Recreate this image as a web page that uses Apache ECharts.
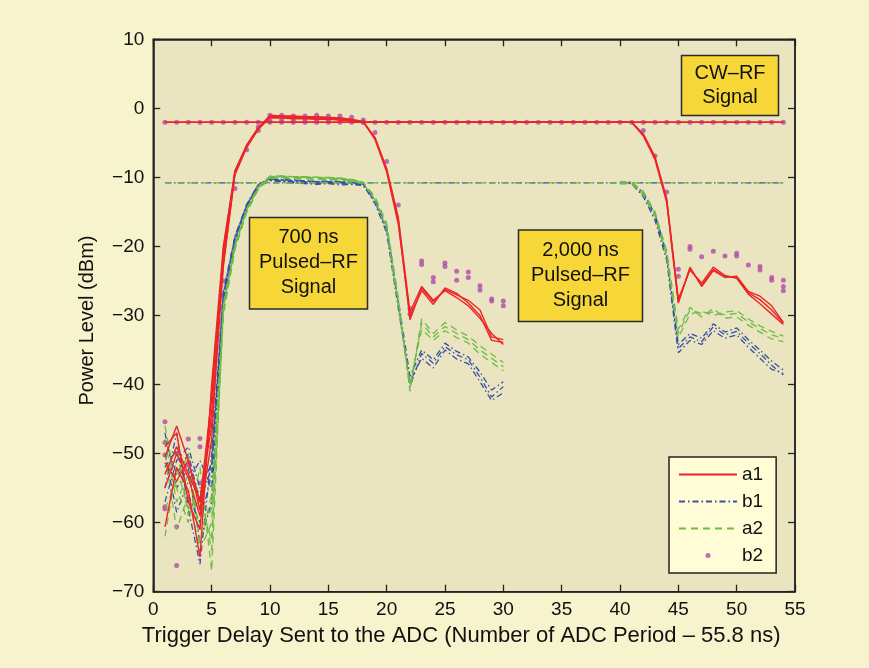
<!DOCTYPE html>
<html>
<head>
<meta charset="utf-8">
<script src="https://cdn.jsdelivr.net/npm/echarts/dist/echarts.min.js"></script>
<style>
  html, body { margin: 0; padding: 0; background: #f6f3cd; }
  #chart { width: 869px; height: 668px; }
</style>
</head>
<body>
<div id="chart"></div>
<script>
// Trigger delay (ADC periods) for each sample
const delays = [1,2,3,4,5,6,7,8,9,10,11,12,13,14,15,16,17,18,19,20,21,22,23,24,25,26,27,
  28,29,30,31,32,33,34,35,36,37,38,39,40,41,42,43,44,45,46,47,48,49,50,51,52,53,54];

const xTicks = [0,5,10,15,20,25,30,35,40,45,50,55];
const yTicks = [-70,-60,-50,-40,-30,-20,-10,0,10];

// ---- a1 (red, solid) ----
const a1_cw = [-2.0,-2.0,-2.0,-2.0,-2.0,-2.0,-2.0,-2.0,-2.0,-2.0,-2.0,-2.0,-2.0,-2.0,-2.0,-2.0,-2.0,-2.0,
  -2.0,-2.0,-2.0,-2.0,-2.0,-2.0,-2.0,-2.0,-2.0,-2.0,-2.0,-2.0,-2.0,-2.0,-2.0,-2.0,-2.0,-2.0,
  -2.0,-2.0,-2.0,-2.0,-2.0,-2.0,-2.0,-2.0,-2.0,-2.0,-2.0,-2.0,-2.0,-2.0,-2.0,-2.0,-2.0,-2.0];
const a1_700_1 = [-50.5,-46.0,-51.0,-57.0,-42.0,-21.0,-9.2,-5.5,-2.9,-1.0,-1.1,-1.1,-1.2,-1.2,-1.3,-1.4,-1.6,-1.9,
  -4.3,-8.9,-16.2,-30.6,-26.1,-28.0,-26.2,-27.0,-27.8,-29.2,-33.1,-33.5];
const a1_700_2 = [-60.6,-52.0,-55.3,-65.0,-40.0,-20.0,-9.0,-5.3,-2.8,-1.2,-1.2,-1.3,-1.3,-1.4,-1.4,-1.5,-1.7,-2.0,
  -4.5,-9.2,-16.8,-30.0,-26.4,-28.4,-26.0,-26.8,-28.2,-30.0,-33.6,-33.9];
const a1_700_3 = [-51.3,-54.0,-50.9,-58.2,-44.0,-22.5,-9.6,-5.7,-3.0,-1.4,-1.4,-1.5,-1.5,-1.6,-1.6,-1.7,-1.8,-2.0,
  -4.2,-8.7,-15.8,-29.5,-25.8,-27.8,-26.4,-27.4,-28.6,-30.4,-32.6,-34.2];
const a1_2000_1 = [-53.0,-49.0,-53.0,-56.7,-46.0,-23.0,-9.4,-5.4,-2.8,-1.1,-1.1,-1.2,-1.2,-1.3,-1.3,-1.4,-1.6,
  -2.0,-2.0,-2.0,-2.0,-2.0,-2.0,-2.0,-2.0,-2.0,-2.0,-2.0,-2.0,-2.0,-2.0,-2.0,-2.0,-2.0,-2.0,-2.0,-2.0,-2.0,-2.0,-2.0,-2.0,
  -3.9,-7.2,-13.3,-28.0,-23.2,-25.6,-23.3,-24.4,-24.4,-26.7,-27.7,-29.2,-31.1];
const a1_2000_2 = [-49.0,-47.0,-57.0,-61.0,-41.0,-21.5,-9.1,-5.6,-2.9,-1.2,-1.2,-1.2,-1.3,-1.3,-1.4,-1.5,-1.7,
  -2.0,-2.0,-2.0,-2.0,-2.0,-2.0,-2.0,-2.0,-2.0,-2.0,-2.0,-2.0,-2.0,-2.0,-2.0,-2.0,-2.0,-2.0,-2.0,-2.0,-2.0,-2.0,-2.0,-2.0,
  -3.7,-7.0,-13.0,-27.6,-23.4,-25.3,-23.0,-24.2,-24.6,-26.9,-28.3,-29.8,-31.3];
const a1_2000_3 = [-55.0,-50.0,-53.5,-59.0,-48.0,-20.5,-9.3,-5.5,-3.0,-1.3,-1.3,-1.4,-1.4,-1.5,-1.5,-1.6,-1.8,
  -2.0,-2.0,-2.0,-2.0,-2.0,-2.0,-2.0,-2.0,-2.0,-2.0,-2.0,-2.0,-2.0,-2.0,-2.0,-2.0,-2.0,-2.0,-2.0,-2.0,-2.0,-2.0,-2.0,-2.0,
  -4.0,-7.4,-13.6,-28.2,-23.0,-25.8,-23.5,-24.5,-24.3,-26.5,-27.2,-28.6,-31.0];

// ---- b1 (blue, dash-dot) ----
const b1_cw = [-10.8,-10.8,-10.8,-10.8,-10.8,-10.8,-10.8,-10.8,-10.8,-10.8,-10.8,-10.8,-10.8,-10.8,-10.8,-10.8,-10.8,-10.8,
  -10.8,-10.8,-10.8,-10.8,-10.8,-10.8,-10.8,-10.8,-10.8,-10.8,-10.8,-10.8,-10.8,-10.8,-10.8,-10.8,-10.8,-10.8,
  -10.8,-10.8,-10.8,-10.8,-10.8,-10.8,-10.8,-10.8,-10.8,-10.8,-10.8,-10.8,-10.8,-10.8,-10.8,-10.8,-10.8,-10.8];
const b1_700_1 = [-48.0,-53.0,-50.0,-57.0,-52.0,-27.5,-19.0,-14.2,-11.2,-10.2,-10.4,-10.4,-10.5,-10.6,-10.5,-10.6,-10.7,-11.0,
  -13.5,-17.6,-28.3,-40.3,-35.5,-36.9,-34.5,-35.7,-36.4,-38.9,-41.8,-40.3];
const b1_700_2 = [-55.0,-47.0,-58.0,-66.0,-50.0,-26.5,-18.6,-14.0,-11.0,-10.3,-10.5,-10.6,-10.7,-10.6,-10.8,-10.9,-10.8,-11.1,
  -13.8,-18.0,-29.0,-39.5,-36.2,-37.6,-35.0,-36.3,-37.0,-39.6,-42.3,-41.2];
const b1_700_3 = [-50.0,-58.5,-54.0,-51.0,-55.0,-28.0,-19.4,-14.5,-11.4,-10.4,-10.6,-10.8,-10.9,-11.0,-10.9,-11.1,-11.0,-11.2,
  -13.2,-17.2,-27.8,-38.8,-35.0,-36.4,-34.0,-35.2,-36.0,-38.2,-40.8,-39.6];
const b1_2000_1 = [-52.0,-49.5,-56.0,-60.0,-53.0,-27.0,-18.8,-14.1,-11.1,-10.3,-10.4,-10.5,-10.6,-10.6,-10.7,-10.7,-10.8,
  -10.8,null,null,null,null,null,null,null,null,null,null,null,null,null,null,null,null,null,null,null,null,null,-10.8,-10.8,
  -12.5,-15.7,-21.5,-34.8,-33.1,-33.8,-31.6,-32.8,-32.3,-34.0,-35.5,-37.2,-38.6];
const b1_2000_2 = [-47.0,-55.0,-52.0,-63.0,-57.0,-27.8,-19.2,-14.4,-11.3,-10.5,-10.6,-10.7,-10.8,-10.9,-10.8,-10.9,-11.0,
  -10.9,null,null,null,null,null,null,null,null,null,null,null,null,null,null,null,null,null,null,null,null,null,-10.9,-10.9,
  -12.8,-16.2,-22.0,-35.4,-33.6,-34.2,-32.2,-33.3,-32.8,-34.6,-36.2,-37.8,-38.4];
const b1_2000_3 = [-57.0,-51.0,-49.0,-55.0,-51.5,-26.8,-18.5,-13.9,-11.0,-10.2,-10.3,-10.4,-10.5,-10.6,-10.6,-10.7,-10.8,
  -10.8,null,null,null,null,null,null,null,null,null,null,null,null,null,null,null,null,null,null,null,null,null,-10.7,-10.7,
  -12.2,-15.3,-21.0,-34.2,-32.6,-33.3,-31.2,-32.4,-31.8,-33.5,-35.0,-36.6,-37.9];

// ---- a2 (green, dashed) ----
const a2_cw = [-10.8,-10.8,-10.8,-10.8,-10.8,-10.8,-10.8,-10.8,-10.8,-10.8,-10.8,-10.8,-10.8,-10.8,-10.8,-10.8,-10.8,-10.8,
  -10.8,-10.8,-10.8,-10.8,-10.8,-10.8,-10.8,-10.8,-10.8,-10.8,-10.8,-10.8,-10.8,-10.8,-10.8,-10.8,-10.8,-10.8,
  -10.8,-10.8,-10.8,-10.8,-10.8,-10.8,-10.8,-10.8,-10.8,-10.8,-10.8,-10.8,-10.8,-10.8,-10.8,-10.8,-10.8,-10.8];
const a2_700_1 = [-46.0,-55.0,-60.0,-52.0,-67.0,-29.0,-20.0,-14.8,-11.5,-10.0,-9.9,-9.9,-10.0,-10.0,-10.1,-10.2,-10.4,-10.8,
  -13.0,-17.0,-28.0,-40.5,-31.1,-33.1,-31.6,-32.6,-33.5,-35.0,-36.2,-37.4];
const a2_700_2 = [-50.0,-61.0,-56.0,-64.0,-60.0,-28.5,-19.6,-14.6,-11.3,-9.8,-9.8,-9.9,-9.9,-10.0,-10.0,-10.1,-10.3,-10.7,
  -12.8,-16.6,-27.4,-41.0,-30.5,-32.6,-31.0,-32.1,-33.0,-34.4,-35.6,-36.8];
const a2_700_3 = [-62.0,-52.0,-58.0,-57.0,-62.5,-30.0,-20.4,-15.1,-11.7,-10.1,-10.1,-10.2,-10.2,-10.3,-10.3,-10.4,-10.5,-10.9,
  -13.3,-17.4,-28.6,-39.8,-32.0,-33.6,-32.2,-33.2,-34.0,-35.6,-36.8,-38.0];
const a2_2000_1 = [-48.0,-57.0,-53.0,-61.0,-58.0,-29.2,-20.1,-14.9,-11.6,-10.0,-9.9,-10.0,-10.0,-10.1,-10.1,-10.2,-10.4,
  -10.8,null,null,null,null,null,null,null,null,null,null,null,null,null,null,null,null,null,null,null,null,null,-10.8,-10.8,
  -12.3,-15.3,-21.0,-32.6,-29.2,-29.7,-29.5,-29.9,-29.7,-30.9,-31.9,-32.8,-33.3];
const a2_2000_2 = [-53.0,-49.0,-59.0,-55.0,-64.0,-28.8,-19.8,-14.7,-11.4,-9.9,-9.8,-9.9,-9.9,-10.0,-10.0,-10.1,-10.3,
  -10.7,null,null,null,null,null,null,null,null,null,null,null,null,null,null,null,null,null,null,null,null,null,-10.7,-10.7,
  -12.0,-15.0,-20.6,-32.0,-28.8,-30.2,-29.0,-30.4,-30.2,-31.4,-32.4,-33.4,-33.8];
const a2_2000_3 = [-58.0,-54.0,-50.0,-63.0,-56.0,-29.6,-20.3,-15.0,-11.6,-10.1,-10.0,-10.1,-10.1,-10.2,-10.2,-10.3,-10.5,
  -10.9,null,null,null,null,null,null,null,null,null,null,null,null,null,null,null,null,null,null,null,null,null,-10.9,-10.9,
  -12.6,-15.6,-21.4,-33.2,-29.8,-29.4,-30.0,-29.5,-29.3,-30.5,-31.5,-32.3,-33.0];

// ---- b2 (magenta dots) ----
const b2_cw = [-2.0,-2.0,-2.0,-2.0,-2.0,-2.0,-2.0,-2.0,-2.0,-2.0,-2.0,-2.0,-2.0,-2.0,-2.0,-2.0,-2.0,-2.0,
  -2.0,-2.0,-2.0,-2.0,-2.0,-2.0,-2.0,-2.0,-2.0,-2.0,-2.0,-2.0,-2.0,-2.0,-2.0,-2.0,-2.0,-2.0,
  -2.0,-2.0,-2.0,-2.0,-2.0,-2.0,-2.0,-2.0,-2.0,-2.0,-2.0,-2.0,-2.0,-2.0,-2.0,-2.0,-2.0,-2.0];
const b2_700_1 = [-45.4,-50.0,-47.9,-47.8,-45.9,-25.0,-11.6,-6.0,-2.7,-1.0,-1.0,-1.1,-1.1,-1.0,-1.1,-1.1,-1.3,-1.7,
  -3.5,-7.7,-14.0,-29.0,-22.1,-24.5,-22.4,-23.6,-23.7,-25.7,-27.6,-27.9];
const b2_700_2 = [-48.4,-60.6,-51.7,-49.0,-49.0,null,null,null,-3.2,-1.8,-1.7,-1.7,-1.7,-1.7,-1.8,-1.8,-1.8,-2.0,
  null,null,null,-29.8,-22.6,-25.1,-22.9,-24.9,-24.5,-26.3,-27.9,-28.6];
// extra samples near the start (delays 1..5)
const b2_start_1 = [-50.2,-66.2,-56.7,-54.3,null];
const b2_start_2 = [-57.7,null,null,-56.7,null];
const b2_start_3 = [-58.0,null,null,null,null];
// 2,000 ns pulse trailing edge (delays 42..54)
const b2_2000_1 = [-3.2,-6.9,-12.1,-23.3,-20.0,-21.5,-20.7,-21.4,-21.0,-22.7,-22.9,-24.5,-24.9];
const b2_2000_2 = [null,null,null,-24.3,-20.4,null,null,null,-21.4,null,-23.4,-24.9,-25.8];
const b2_2000_3 = [null,null,null,null,null,null,null,null,null,null,null,null,-26.4];

// pair values with delays, starting at a given delay
function pairs(values, firstDelay) {
  const start = delays.indexOf(firstDelay);
  return values.map((v, i) => [delays[start + i], v]);
}

const FONT = '"Liberation Sans", Arial, Helvetica, sans-serif';
const RED = '#ec2527', BLUE = '#3450a6', GREEN = '#6bbd45', MAG = '#b24aa8';

function lineSeries(name, values, color, type, width) {
  return {
    name: name, type: 'line', data: pairs(values, 1),
    showSymbol: false, symbol: 'none', connectNulls: false,
    lineStyle: { color: color, width: width, type: type },
    itemStyle: { color: color },
    animation: false, silent: true
  };
}
function dotSeries(values, firstDelay) {
  return {
    name: 'b2', type: 'scatter', data: pairs(values, firstDelay).filter(p => p[1] !== null),
    symbol: 'circle', symbolSize: 5,
    itemStyle: { color: MAG },
    animation: false, silent: true
  };
}

const DASHDOT = [6, 3, 1.5, 3];
const DASH = [7, 5];

const series = [
  lineSeries('b1', b1_700_1, BLUE, DASHDOT, 1.3),
  lineSeries('b1', b1_cw, BLUE, DASHDOT, 1.3),
  lineSeries('b1', b1_700_2, BLUE, DASHDOT, 1.3),
  lineSeries('b1', b1_700_3, BLUE, DASHDOT, 1.3),
  lineSeries('b1', b1_2000_1, BLUE, DASHDOT, 1.3),
  lineSeries('b1', b1_2000_2, BLUE, DASHDOT, 1.3),
  lineSeries('b1', b1_2000_3, BLUE, DASHDOT, 1.3),
  lineSeries('a2', a2_700_1, GREEN, DASH, 1.3),
  lineSeries('a2', a2_cw, GREEN, DASH, 1.3),
  lineSeries('a2', a2_700_2, GREEN, DASH, 1.3),
  lineSeries('a2', a2_700_3, GREEN, DASH, 1.3),
  lineSeries('a2', a2_2000_1, GREEN, DASH, 1.3),
  lineSeries('a2', a2_2000_2, GREEN, DASH, 1.3),
  lineSeries('a2', a2_2000_3, GREEN, DASH, 1.3),
  lineSeries('a1', a1_cw, RED, 'solid', 1.6),
  lineSeries('a1', a1_700_1, RED, 'solid', 1.4),
  lineSeries('a1', a1_700_2, RED, 'solid', 1.4),
  lineSeries('a1', a1_700_3, RED, 'solid', 1.4),
  lineSeries('a1', a1_2000_1, RED, 'solid', 1.4),
  lineSeries('a1', a1_2000_2, RED, 'solid', 1.4),
  lineSeries('a1', a1_2000_3, RED, 'solid', 1.4),
  dotSeries(b2_cw, 1),
  dotSeries(b2_700_1, 1),
  dotSeries(b2_700_2, 1),
  dotSeries(b2_start_1, 1),
  dotSeries(b2_start_2, 1),
  dotSeries(b2_start_3, 1),
  dotSeries(b2_2000_1, 42),
  dotSeries(b2_2000_2, 42),
  dotSeries(b2_2000_3, 42)
];

const minus = v => String(v).replace('-', '\u2212');
const axisLine = { show: true, onZero: false, lineStyle: { color: '#222', width: 1.5 } };
const tickIn = { show: true, inside: true, length: 7, lineStyle: { color: '#222', width: 1.3 } };
const noSymbol = { opacity: 0 };

const chart = echarts.init(document.getElementById('chart'), null, { renderer: 'canvas' });
chart.setOption({
  backgroundColor: '#f6f3cd',
  animation: false,
  textStyle: { fontFamily: FONT },
  grid: { left: 153.3, top: 39.3, right: 74, bottom: 76.3, show: true,
          backgroundColor: '#ebe4c1', borderColor: '#222', borderWidth: 1.5 },
  legend: {
    orient: 'vertical', left: 669, top: 457,
    data: [
      { name: 'a1', itemStyle: noSymbol },
      { name: 'b1', itemStyle: noSymbol },
      { name: 'a2', itemStyle: noSymbol },
      { name: 'b2', icon: 'circle' }
    ],
    itemWidth: 58, itemHeight: 5, itemGap: 8,
    padding: [8, 13, 8, 9],
    backgroundColor: '#fffcd6', borderColor: '#222', borderWidth: 1.5,
    textStyle: { fontSize: 19, color: '#111', fontFamily: FONT },
    selectedMode: false
  },
  xAxis: [{
    type: 'value', min: 0, max: 55, interval: 5,
    name: 'Trigger Delay Sent to the ADC (Number of ADC Period \u2013 55.8 ns)',
    nameLocation: 'middle', nameGap: 30,
    nameTextStyle: { fontSize: 22, color: '#111', fontFamily: FONT, padding: [0, 26, 0, 0] },
    axisLine: axisLine, axisTick: tickIn, splitLine: { show: false },
    axisLabel: { fontSize: 19, color: '#111', margin: 9, fontFamily: FONT,
                 customValues: xTicks }
  }, {
    type: 'value', min: 0, max: 55, interval: 5, position: 'top',
    axisLine: axisLine, axisTick: tickIn, splitLine: { show: false },
    axisLabel: { show: false }
  }],
  yAxis: [{
    type: 'value', min: -70, max: 10, interval: 10,
    name: 'Power Level (dBm)', nameLocation: 'middle', nameGap: 56,
    nameTextStyle: { fontSize: 20, color: '#111', fontFamily: FONT, padding: [0, 10, 0, 0] },
    axisLine: axisLine, axisTick: tickIn, splitLine: { show: false },
    axisLabel: { fontSize: 19, color: '#111', margin: 9, fontFamily: FONT,
                 formatter: minus, customValues: yTicks }
  }, {
    type: 'value', min: -70, max: 10, interval: 10, position: 'right',
    axisLine: axisLine, axisTick: tickIn, splitLine: { show: false },
    axisLabel: { show: false }
  }],
  graphic: [
    { type: 'rect', z: 100, shape: { x: 681.5, y: 55.5, width: 97, height: 60 },
      style: { fill: '#f7d737', stroke: '#2b2b2b', lineWidth: 1.5 } },
    { type: 'text', z: 101, x: 730, y: 85.5,
      style: { text: 'CW\u2013RF\nSignal', font: '20px ' + FONT, fill: '#111',
               align: 'center', verticalAlign: 'middle', lineHeight: 23.5 } },
    { type: 'rect', z: 100, shape: { x: 249.5, y: 217.5, width: 118, height: 91.5 },
      style: { fill: '#f7d737', stroke: '#2b2b2b', lineWidth: 1.5 } },
    { type: 'text', z: 101, x: 308.5, y: 262,
      style: { text: '700 ns\nPulsed\u2013RF\nSignal', font: '20px ' + FONT, fill: '#111',
               align: 'center', verticalAlign: 'middle', lineHeight: 25 } },
    { type: 'rect', z: 100, shape: { x: 518.5, y: 230, width: 124, height: 91.5 },
      style: { fill: '#f7d737', stroke: '#2b2b2b', lineWidth: 1.5 } },
    { type: 'text', z: 101, x: 580.5, y: 275.5,
      style: { text: '2,000 ns\nPulsed\u2013RF\nSignal', font: '20px ' + FONT, fill: '#111',
               align: 'center', verticalAlign: 'middle', lineHeight: 25 } }
  ],
  series: series
});
</script>
</body>
</html>
